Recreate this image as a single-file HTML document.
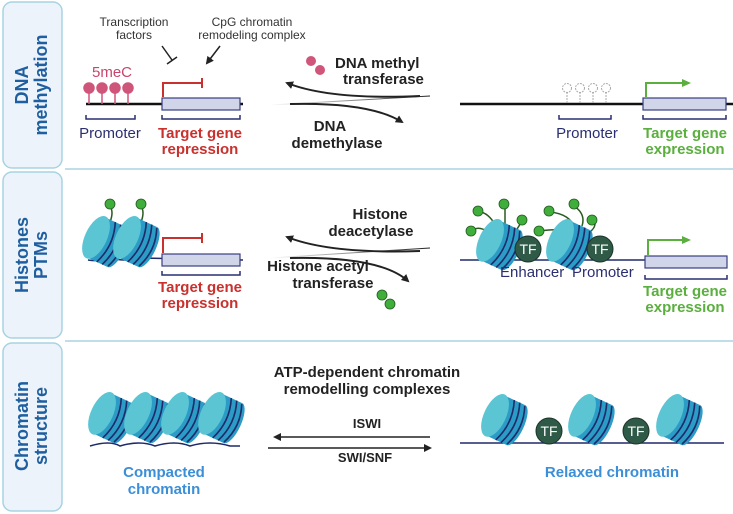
<!DOCTYPE html>
<html><head><meta charset="utf-8"><style>
html,body{margin:0;padding:0;background:#fff}
svg{display:block;font-family:"Liberation Sans",sans-serif}
</style></head><body>
<svg width="733" height="514" viewBox="0 0 733 514" xmlns="http://www.w3.org/2000/svg">
<defs>
<g id="nuc">
 <g transform="rotate(25)">
  <rect x="-12" y="-22" width="24" height="44" fill="#2a9cc6"/>
  <ellipse cx="12" cy="0" rx="8" ry="22" fill="#2a9cc6"/>
  <ellipse cx="-11" cy="0" rx="11" ry="23" fill="#5bc5d4"/>
  <path d="M0,-22 Q9,0 0,22 M6,-22 Q15,0 6,22 M12,-21 Q21,0 12,21" stroke="#1e2a6a" stroke-width="1.6" fill="none"/>
 </g>
</g>
<marker id="ah" markerWidth="8" markerHeight="8" refX="6" refY="4" orient="auto" markerUnits="userSpaceOnUse"><path d="M0,0 L8,4 L0,8 Z" fill="#222"/></marker>
<marker id="agr" markerWidth="9" markerHeight="8" refX="3" refY="4" orient="auto" markerUnits="userSpaceOnUse"><path d="M0,0 L9,4 L0,8 Z" fill="#5aaf3e"/></marker>
<linearGradient id="fade" x1="0" x2="1"><stop offset="0" stop-color="#222" stop-opacity="0"/><stop offset="1" stop-color="#222"/></linearGradient>
</defs>

<rect x="3" y="2" width="59" height="166" rx="9" fill="#edf3fb" stroke="#a8d3e2" stroke-width="1.5"/>
<rect x="3" y="172" width="59" height="166" rx="9" fill="#edf3fb" stroke="#a8d3e2" stroke-width="1.5"/>
<rect x="3" y="343" width="59" height="168" rx="9" fill="#edf3fb" stroke="#a8d3e2" stroke-width="1.5"/>
<g font-weight="bold" font-size="18" fill="#1f5fa0" text-anchor="middle">
<text transform="translate(28,85) rotate(-90)">DNA</text>
<text transform="translate(47,85) rotate(-90)">methylation</text>
<text transform="translate(28,255) rotate(-90)">Histones</text>
<text transform="translate(47,255) rotate(-90)">PTMs</text>
<text transform="translate(28,426) rotate(-90)">Chromatin</text>
<text transform="translate(47,426) rotate(-90)">structure</text>
</g>
<line x1="65" y1="169" x2="733" y2="169" stroke="#a8d3e2" stroke-width="1.5"/>
<line x1="65" y1="341" x2="733" y2="341" stroke="#a8d3e2" stroke-width="1.5"/>

<!-- ROW 1 -->
<g font-size="12" fill="#333" text-anchor="middle">
<text x="134" y="26">Transcription</text><text x="134" y="39">factors</text>
<text x="252" y="26">CpG chromatin</text><text x="252" y="39">remodeling complex</text>
</g>
<line x1="162" y1="46" x2="172" y2="60" stroke="#222" stroke-width="1.5"/>
<line x1="167" y1="64" x2="177" y2="57" stroke="#222" stroke-width="1.5"/>
<line x1="220" y1="46" x2="207" y2="63" stroke="#222" stroke-width="1.5" marker-end="url(#ah)"/>
<text x="112" y="77" font-size="15" fill="#c9456b" text-anchor="middle">5meC</text>
<line x1="86" y1="104" x2="243" y2="104" stroke="#111" stroke-width="2.5"/>
<g stroke="#d0557a" stroke-width="1.5" fill="#d0557a">
<line x1="89" y1="88" x2="89" y2="104"/><circle cx="89" cy="88" r="5"/>
<line x1="102" y1="88" x2="102" y2="104"/><circle cx="102" cy="88" r="5"/>
<line x1="115" y1="88" x2="115" y2="104"/><circle cx="115" cy="88" r="5"/>
<line x1="128" y1="88" x2="128" y2="104"/><circle cx="128" cy="88" r="5"/>
</g>
<rect x="162" y="98" width="78" height="12" fill="#d0d5ea" stroke="#3a3f80" stroke-width="1.2"/>
<path d="M163,97 V83 H202 M202,78 V88" stroke="#c8312e" stroke-width="2" fill="none"/>
<path d="M86,115 V119 H135 V115 M162,115 V119 H240 V115" stroke="#2a2f70" stroke-width="1.5" fill="none"/>
<text x="110" y="138" font-size="15" fill="#2a2f70" text-anchor="middle">Promoter</text>
<g font-size="15" font-weight="bold" fill="#c8312e" text-anchor="middle"><text x="200" y="138">Target gene</text><text x="200" y="154">repression</text></g>
<circle cx="311" cy="61" r="5" fill="#d0557a"/><circle cx="320" cy="70" r="5" fill="#d0557a"/>
<g font-size="15" font-weight="bold" fill="#222"><text x="335" y="68">DNA methyl</text><text x="343" y="84">transferase</text></g>
<path d="M420,96 Q330,100 287,83" stroke="#222" stroke-width="2" fill="none" marker-end="url(#ah)"/>
<path d="M270,105 L430,96" stroke="url(#fade)" stroke-width="1"/>
<path d="M290,104 Q370,102 402,122" stroke="#222" stroke-width="2" fill="none" marker-end="url(#ah)"/>
<g font-size="15" font-weight="bold" fill="#222" text-anchor="middle"><text x="330" y="131">DNA</text><text x="337" y="148">demethylase</text></g>
<line x1="460" y1="104" x2="733" y2="104" stroke="#111" stroke-width="2.5"/>
<g stroke="#aaa" stroke-width="1" fill="#fff" stroke-dasharray="2,1">
<line x1="567" y1="92" x2="567" y2="104"/><circle cx="567" cy="88" r="4.5"/>
<line x1="580" y1="92" x2="580" y2="104"/><circle cx="580" cy="88" r="4.5"/>
<line x1="593" y1="92" x2="593" y2="104"/><circle cx="593" cy="88" r="4.5"/>
<line x1="606" y1="92" x2="606" y2="104"/><circle cx="606" cy="88" r="4.5"/>
</g>
<rect x="643" y="98" width="83" height="12" fill="#d0d5ea" stroke="#3a3f80" stroke-width="1.2"/>
<path d="M646,97 V83 H685" stroke="#5aaf3e" stroke-width="2" fill="none" marker-end="url(#agr)"/>
<path d="M559,115 V119 H611 V115 M643,115 V119 H726 V115" stroke="#2a2f70" stroke-width="1.5" fill="none"/>
<text x="587" y="138" font-size="15" fill="#2a2f70" text-anchor="middle">Promoter</text>
<g font-size="15" font-weight="bold" fill="#5aaf3e" text-anchor="middle"><text x="685" y="138">Target gene</text><text x="685" y="154">expression</text></g>

<!-- ROW 2 -->
<path d="M88,260 Q100,262 110,258 Q125,262 140,258 L243,260" stroke="#1e2a6a" stroke-width="1.5" fill="none"/>
<g stroke="#2a5a22" stroke-width="1.5" fill="none">
<path d="M110,222 Q114,212 110,206 M141,222 Q145,212 141,206"/>
</g>
<g fill="#3fae3a" stroke="#245a20" stroke-width="0.8">
<circle cx="110" cy="204" r="5"/><circle cx="141" cy="204" r="5"/></g>
<use href="#nuc" x="106" y="242"/>
<use href="#nuc" x="137" y="242"/>
<rect x="162" y="254" width="78" height="12" fill="#d0d5ea" stroke="#3a3f80" stroke-width="1.2"/>
<path d="M163,253 V238 H202 M202,233 V243" stroke="#c8312e" stroke-width="2" fill="none"/>
<path d="M162,271 V275 H240 V271" stroke="#2a2f70" stroke-width="1.5" fill="none"/>
<g font-size="15" font-weight="bold" fill="#c8312e" text-anchor="middle"><text x="200" y="292">Target gene</text><text x="200" y="308">repression</text></g>
<g font-size="15" font-weight="bold" fill="#222" text-anchor="middle"><text x="380" y="219">Histone</text><text x="371" y="236">deacetylase</text>
<text x="318" y="271">Histone acetyl</text><text x="333" y="288">transferase</text></g>
<path d="M420,251 Q330,254 287,237" stroke="#222" stroke-width="2" fill="none" marker-end="url(#ah)"/>
<path d="M270,258 L430,248" stroke="url(#fade)" stroke-width="1"/>
<path d="M290,258 Q380,256 408,281" stroke="#222" stroke-width="2" fill="none" marker-end="url(#ah)"/>
<g fill="#3fae3a" stroke="#245a20" stroke-width="0.8"><circle cx="382" cy="295" r="5"/><circle cx="390" cy="304" r="5"/></g>
<line x1="460" y1="260" x2="645" y2="260" stroke="#1e2a6a" stroke-width="1.5"/>
<g stroke="#2a5a22" stroke-width="1.5" fill="none">
<path d="M488,232 Q478,225 472,231 M496,226 Q488,212 479,212 M505,228 Q505,215 505,207 M515,232 Q520,225 522,220 M568,232 Q560,228 539,231 M575,228 Q570,214 550,212 M582,226 Q586,214 574,206 M590,232 Q598,225 593,220"/>
</g>
<g fill="#3fae3a" stroke="#245a20" stroke-width="0.8">
<circle cx="471" cy="231" r="5"/><circle cx="478" cy="211" r="5"/><circle cx="504" cy="204" r="5"/><circle cx="522" cy="220" r="5"/>
<circle cx="539" cy="231" r="5"/><circle cx="549" cy="211" r="5"/><circle cx="574" cy="204" r="5"/><circle cx="592" cy="220" r="5"/></g>
<use href="#nuc" x="500" y="245"/>
<use href="#nuc" x="570" y="245"/>
<g font-size="14" fill="#fff" text-anchor="middle">
<circle cx="528" cy="249" r="13" fill="#2f5a48" stroke="#1a3328"/><text x="528" y="254">TF</text>
<circle cx="600" cy="249" r="13" fill="#2f5a48" stroke="#1a3328"/><text x="600" y="254">TF</text></g>
<text x="500" y="277" font-size="15" fill="#2a2f70">Enhancer</text>
<text x="572" y="277" font-size="15" fill="#2a2f70">Promoter</text>
<rect x="645" y="256" width="82" height="12" fill="#d0d5ea" stroke="#3a3f80" stroke-width="1.2"/>
<path d="M648,255 V240 H685" stroke="#5aaf3e" stroke-width="2" fill="none" marker-end="url(#agr)"/>
<path d="M645,275 V279 H727 V275" stroke="#2a2f70" stroke-width="1.5" fill="none"/>
<g font-size="15" font-weight="bold" fill="#5aaf3e" text-anchor="middle"><text x="685" y="296">Target gene</text><text x="685" y="312">expression</text></g>

<!-- ROW 3 -->
<g font-size="15" font-weight="bold" fill="#222" text-anchor="middle"><text x="367" y="377">ATP-dependent chromatin</text><text x="367" y="394">remodelling complexes</text></g>
<text x="367" y="428" font-size="13" font-weight="bold" fill="#222" text-anchor="middle">ISWI</text>
<text x="365" y="462" font-size="13" font-weight="bold" fill="#222" text-anchor="middle">SWI/SNF</text>
<line x1="430" y1="437" x2="275" y2="437" stroke="#222" stroke-width="1.5" marker-end="url(#ah)"/>
<line x1="268" y1="448" x2="430" y2="448" stroke="#222" stroke-width="1.5" marker-end="url(#ah)"/>
<path d="M90,446 Q110,440 120,446 Q140,440 155,446 Q175,440 190,446 Q210,440 230,446 L240,446" stroke="#1e2a6a" stroke-width="1.5" fill="none"/>
<use href="#nuc" x="112" y="418"/>
<use href="#nuc" x="148" y="418"/>
<use href="#nuc" x="185" y="418"/>
<use href="#nuc" x="222" y="418"/>
<g font-size="15" font-weight="bold" fill="#3a8fd8" text-anchor="middle"><text x="164" y="477">Compacted</text><text x="164" y="494">chromatin</text></g>
<line x1="460" y1="443" x2="724" y2="443" stroke="#1e2a6a" stroke-width="1.5"/>
<use href="#nuc" x="505" y="420"/>
<use href="#nuc" x="592" y="420"/>
<use href="#nuc" x="680" y="420"/>
<g font-size="14" fill="#fff" text-anchor="middle">
<circle cx="549" cy="431" r="13" fill="#2f5a48" stroke="#1a3328"/><text x="549" y="436">TF</text>
<circle cx="636" cy="431" r="13" fill="#2f5a48" stroke="#1a3328"/><text x="636" y="436">TF</text></g>
<text x="612" y="477" font-size="15" font-weight="bold" fill="#3a8fd8" text-anchor="middle">Relaxed chromatin</text>
</svg>
</body></html>
